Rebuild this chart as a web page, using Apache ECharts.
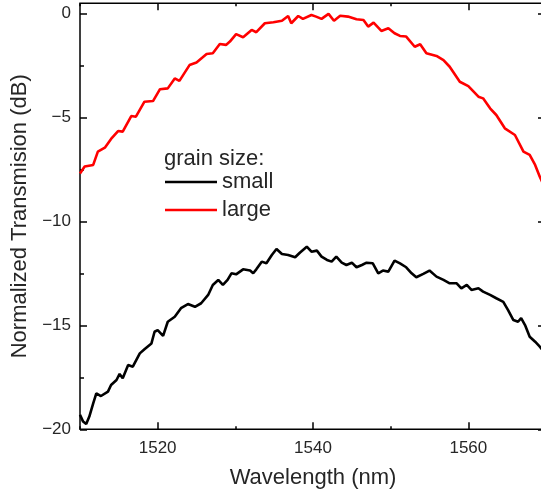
<!DOCTYPE html>
<html>
<head>
<meta charset="utf-8">
<script src="https://cdn.jsdelivr.net/npm/echarts@6/dist/echarts.min.js"></script>
<style>html,body{margin:0;padding:0;background:#fff}#c{width:541px;height:494px}</style>
</head>
<body>
<div id="c"></div>
<script>
// ---- data ----
const legendTitle = 'grain size:';
const seriesNames = ['small', 'large'];
const xTickLabels = [1520, 1540, 1560];
const xMinorTicks = [1510, 1530, 1550, 1570];
const yTickLabels = [-20, -15, -10, -5, 0];
const yMinorTicks = [-17.5, -12.5, -7.5, -2.5];

const smallWavelength = [1510.0,1510.1,1510.4,1510.8,1511.2,1511.7,1512.1,1512.7,1513.6,1514.0,1514.7,1515.1,1515.5,1516.2,1516.8,1517.7,1518.3,1519.2,1519.6,1520.0,1520.7,1521.3,1522.2,1523.0,1523.9,1524.8,1525.6,1526.5,1527.1,1527.8,1528.4,1529.0,1529.5,1530.1,1531.0,1531.9,1532.3,1532.7,1533.4,1534.0,1534.7,1535.3,1536.0,1536.8,1537.7,1538.3,1539.2,1539.8,1540.5,1541.1,1541.8,1542.4,1543.0,1543.7,1544.3,1545.0,1545.6,1546.3,1546.9,1547.7,1548.4,1549.0,1549.7,1550.5,1551.2,1552.0,1552.7,1553.3,1554.2,1555.0,1555.9,1556.8,1557.6,1558.5,1559.1,1559.8,1560.4,1561.3,1561.9,1562.8,1563.6,1564.5,1565.1,1565.8,1566.4,1566.8,1567.3,1567.9,1568.6,1569.2,1570.0];
const smallValue = [-19.3,-19.31,-19.63,-19.75,-19.39,-18.75,-18.27,-18.40,-18.19,-17.87,-17.63,-17.34,-17.55,-16.91,-16.99,-16.35,-16.15,-15.87,-15.31,-15.23,-15.51,-14.83,-14.59,-14.18,-13.98,-14.11,-13.94,-13.54,-13.06,-12.82,-13.06,-12.82,-12.50,-12.55,-12.31,-12.37,-12.50,-12.31,-11.94,-12.02,-11.62,-11.33,-11.57,-11.62,-11.73,-11.51,-11.22,-11.46,-11.41,-11.70,-11.86,-11.94,-11.70,-11.99,-12.10,-11.99,-12.21,-12.10,-11.99,-12.02,-12.50,-12.37,-12.42,-11.89,-12.02,-12.21,-12.50,-12.69,-12.53,-12.37,-12.66,-12.82,-12.98,-12.98,-13.22,-13.06,-13.30,-13.22,-13.38,-13.54,-13.70,-13.87,-14.26,-14.75,-14.83,-14.66,-14.99,-15.55,-15.79,-16.03,-16.4];

const largeWavelength = [1510.0,1510.6,1511.7,1512.3,1513.2,1514.0,1514.9,1515.5,1516.6,1517.2,1518.3,1519.4,1520.3,1521.3,1522.2,1522.8,1524.1,1525.0,1526.3,1527.1,1528.0,1528.8,1529.3,1530.1,1531.0,1532.1,1532.7,1533.8,1534.9,1536.0,1536.8,1537.2,1538.1,1538.7,1539.8,1540.4,1541.1,1542.0,1542.7,1543.5,1544.5,1545.6,1546.5,1547.1,1547.8,1548.8,1549.7,1550.5,1551.2,1552.0,1553.1,1553.8,1554.6,1555.9,1556.8,1557.6,1558.9,1560.0,1561.3,1561.9,1562.8,1563.6,1564.7,1566.0,1567.1,1567.9,1568.6,1569.2,1570.0];
const largeValue = [-7.70,-7.37,-7.29,-6.65,-6.46,-6.04,-5.66,-5.69,-4.94,-4.97,-4.25,-4.22,-3.65,-3.61,-3.13,-3.25,-2.49,-2.37,-1.96,-1.92,-1.48,-1.52,-1.36,-1.00,-1.15,-0.80,-0.91,-0.48,-0.43,-0.36,-0.13,-0.48,-0.13,-0.27,-0.08,-0.16,-0.27,-0.03,-0.36,-0.12,-0.16,-0.29,-0.32,-0.64,-0.45,-0.85,-0.72,-0.96,-1.09,-1.12,-1.61,-1.49,-1.92,-2.05,-2.25,-2.57,-3.29,-3.50,-4.01,-4.09,-4.57,-4.89,-5.53,-5.85,-6.65,-6.81,-7.29,-7.86,-8.5];

// ---- chart ----
const FONT = 'Liberation Sans, Arial, sans-serif';
const TXT = '#262626';
const xMin = 1510, xMax = 1570, yMin = -20, yMax = 0.48;
const pair = (xs, ys) => xs.map((x, i) => [x, ys[i]]);
const minus = v => String(v).replace('-', '\u2212');
const plain = v => String(v);

const baseX = () => ({type: 'value', min: xMin, max: xMax, splitLine: {show: false}, gridIndex: 0,
  axisLine: {show: false, onZero: false}});
const baseY = () => ({type: 'value', min: yMin, max: yMax, splitLine: {show: false}, gridIndex: 0,
  axisLine: {show: false, onZero: false}});
const tickStyle = () => ({color: '#000', width: 1.5});

const chart = echarts.init(document.getElementById('c'), null, {renderer: 'canvas'});
chart.setOption({
  animation: false,
  backgroundColor: '#fff',
  title: {
    text: legendTitle, left: 164, top: 148, padding: 0,
    textStyle: {fontFamily: FONT, fontSize: 22, fontWeight: 'normal', color: TXT}
  },
  legend: {
    orient: 'vertical', left: 165, top: 171, padding: 0,
    icon: 'rect', itemWidth: 52, itemHeight: 2.6, itemGap: 6,
    data: [seriesNames[0], seriesNames[1]],
    textStyle: {fontFamily: FONT, fontSize: 22, color: TXT}
  },
  grid: {left: 80, right: -5, top: 3.3, bottom: 64.7, outerBoundsMode: 'none', containLabel: false,
    show: true, borderColor: '#000', borderWidth: 1.5, backgroundColor: 'transparent'},
  xAxis: [
    Object.assign(baseX(), {
      position: 'bottom',
      axisTick: {show: true, inside: true, length: 7, customValues: xTickLabels, lineStyle: tickStyle()},
      axisLabel: {customValues: xTickLabels, margin: 11, fontFamily: FONT, fontSize: 17, color: TXT, formatter: plain},
      name: 'Wavelength (nm)', nameLocation: 'middle', nameGap: 38,
      nameTextStyle: {fontFamily: FONT, fontSize: 22, color: TXT}
    }),
    Object.assign(baseX(), {
      position: 'bottom',
      axisTick: {show: true, inside: true, length: 3, customValues: xMinorTicks, lineStyle: tickStyle()},
      axisLabel: {show: false}
    }),
    Object.assign(baseX(), {
      position: 'top',
      axisTick: {show: true, inside: true, length: 7, customValues: xTickLabels, lineStyle: tickStyle()},
      axisLabel: {show: false}
    }),
    Object.assign(baseX(), {
      position: 'top',
      axisTick: {show: true, inside: true, length: 3, customValues: xMinorTicks, lineStyle: tickStyle()},
      axisLabel: {show: false}
    })
  ],
  yAxis: [
    Object.assign(baseY(), {
      position: 'left',
      axisTick: {show: true, inside: true, length: 7, customValues: yTickLabels, lineStyle: tickStyle()},
      axisLabel: {customValues: yTickLabels, margin: 9, fontFamily: FONT, fontSize: 17, color: TXT, formatter: minus},
      name: 'Normalized Transmision (dB)', nameLocation: 'middle', nameGap: 43, nameRotate: 90,
      nameTextStyle: {fontFamily: FONT, fontSize: 22, color: TXT}
    }),
    Object.assign(baseY(), {
      position: 'left',
      axisTick: {show: true, inside: true, length: 4, customValues: yMinorTicks, lineStyle: tickStyle()},
      axisLabel: {show: false}
    }),
    Object.assign(baseY(), {
      position: 'right',
      axisTick: {show: true, inside: true, length: 8, customValues: yTickLabels, lineStyle: tickStyle()},
      axisLabel: {show: false}
    })
  ],
  series: [
    {
      name: seriesNames[0], type: 'line', xAxisIndex: 0, yAxisIndex: 0,
      data: pair(smallWavelength, smallValue),
      symbol: 'none', showSymbol: false, clip: true,
      lineStyle: {color: '#000', width: 2.6}, itemStyle: {color: '#000'}
    },
    {
      name: seriesNames[1], type: 'line', xAxisIndex: 0, yAxisIndex: 0,
      data: pair(largeWavelength, largeValue),
      symbol: 'none', showSymbol: false, clip: true,
      lineStyle: {color: '#ff0000', width: 2.6}, itemStyle: {color: '#ff0000'}
    }
  ]
});
</script>
</body>
</html>
